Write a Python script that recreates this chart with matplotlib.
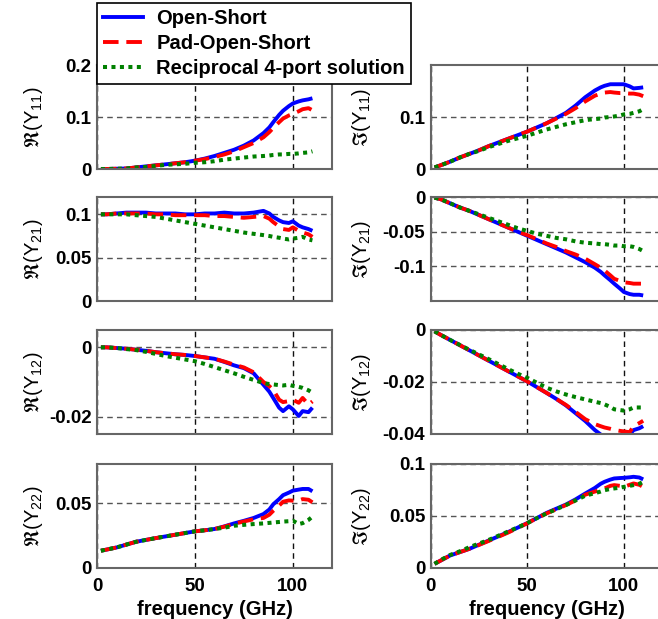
import numpy as np
import matplotlib
matplotlib.use("Agg")
import matplotlib.pyplot as plt
from matplotlib.lines import Line2D

plt.rcParams['font.family'] = ['Liberation Sans', 'DejaVu Sans']
plt.rcParams['mathtext.fontset'] = 'dejavusans'
plt.rcParams['mathtext.default'] = 'regular'

# частоты, ГГц
freq = [2, 5, 10, 15, 20, 25, 30, 35, 40, 45, 50, 55, 60, 65, 70, 75, 80,
        85, 88, 90, 93, 95, 98, 100, 103, 105, 108, 110]

series_names = ["Open-Short", "Pad-Open-Short", "Reciprocal 4-port solution"]

# Re(Y11)
re_y11_os = [0, 0, 0.0005, 0.001, 0.003, 0.005, 0.007, 0.009, 0.011, 0.013, 0.016, 0.02, 0.025, 0.031,
             0.037, 0.045, 0.055, 0.069, 0.080, 0.090, 0.104, 0.112, 0.121, 0.126, 0.130, 0.132, 0.134, 0.136]
re_y11_pos = [0, 0, 0.0005, 0.001, 0.003, 0.005, 0.007, 0.009, 0.011, 0.013, 0.016, 0.019, 0.023, 0.028,
              0.034, 0.042, 0.05, 0.061, 0.071, 0.079, 0.090, 0.097, 0.103, 0.106, 0.111, 0.115, 0.117, 0.113]
re_y11_rec = [0, 0, 0.0005, 0.001, 0.003, 0.004, 0.006, 0.008, 0.009, 0.010, 0.012, 0.013, 0.015, 0.018,
              0.020, 0.022, 0.024, 0.025, 0.026, 0.027, 0.028, 0.028, 0.029, 0.029, 0.030, 0.031, 0.032, 0.034]

# Im(Y11)
im_y11_os = [0.003, 0.007, 0.014, 0.022, 0.029, 0.036, 0.044, 0.051, 0.058, 0.065, 0.072, 0.080, 0.088, 0.098,
             0.108, 0.122, 0.138, 0.151, 0.157, 0.160, 0.163, 0.163, 0.163, 0.163, 0.159, 0.155, 0.156, 0.157]
im_y11_pos = [0.003, 0.007, 0.014, 0.022, 0.029, 0.036, 0.044, 0.051, 0.058, 0.065, 0.072, 0.080, 0.088, 0.097,
              0.106, 0.117, 0.130, 0.141, 0.145, 0.147, 0.148, 0.147, 0.146, 0.146, 0.145, 0.145, 0.143, 0.140]
im_y11_rec = [0.003, 0.007, 0.014, 0.022, 0.029, 0.035, 0.042, 0.048, 0.054, 0.059, 0.064, 0.070, 0.076, 0.081,
              0.086, 0.090, 0.094, 0.096, 0.097, 0.099, 0.100, 0.101, 0.103, 0.105, 0.106, 0.108, 0.111, 0.115]

# Re(Y21)
re_y21_os = [0.1, 0.1, 0.101, 0.102, 0.102, 0.102, 0.101, 0.101, 0.101, 0.100, 0.100, 0.101, 0.101, 0.102,
             0.101, 0.101, 0.102, 0.104, 0.101, 0.097, 0.093, 0.091, 0.090, 0.092, 0.087, 0.085, 0.083, 0.081]
re_y21_pos = [0.1, 0.1, 0.101, 0.101, 0.101, 0.101, 0.100, 0.100, 0.099, 0.099, 0.099, 0.099, 0.098, 0.098,
              0.097, 0.096, 0.097, 0.098, 0.095, 0.091, 0.086, 0.083, 0.082, 0.085, 0.081, 0.079, 0.077, 0.074]
re_y21_rec = [0.1, 0.1, 0.1, 0.1, 0.099, 0.098, 0.097, 0.095, 0.093, 0.091, 0.089, 0.087, 0.085, 0.083,
              0.081, 0.079, 0.0775, 0.076, 0.075, 0.074, 0.073, 0.072, 0.071, 0.072, 0.073, 0.074, 0.071, 0.070]

# Im(Y21)
im_y21_os = [-0.001, -0.003, -0.009, -0.015, -0.020, -0.026, -0.032, -0.038, -0.044, -0.050, -0.056, -0.062,
             -0.068, -0.074, -0.080, -0.087, -0.094, -0.102, -0.108, -0.113, -0.120, -0.125, -0.132, -0.137,
             -0.140, -0.141, -0.141, -0.142]
im_y21_pos = [-0.001, -0.003, -0.009, -0.015, -0.020, -0.026, -0.032, -0.038, -0.044, -0.050, -0.055, -0.061,
              -0.067, -0.072, -0.078, -0.083, -0.089, -0.097, -0.102, -0.106, -0.113, -0.118, -0.121, -0.123,
              -0.124, -0.125, -0.125, -0.125]
im_y21_rec = [-0.001, -0.003, -0.009, -0.015, -0.020, -0.025, -0.030, -0.035, -0.040, -0.045, -0.049, -0.053,
              -0.056, -0.059, -0.061, -0.064, -0.066, -0.067, -0.068, -0.068, -0.069, -0.070, -0.070, -0.071,
              -0.071, -0.072, -0.075, -0.078]

# Re(Y12)
re_y12_os = [0, 0, -0.0002, -0.0004, -0.0007, -0.001, -0.0014, -0.0017, -0.002, -0.0022, -0.0025, -0.0029,
             -0.0033, -0.0042, -0.0052, -0.006, -0.0075, -0.0108, -0.0128, -0.0146, -0.0174, -0.0184, -0.0170,
             -0.0179, -0.0198, -0.0184, -0.0187, -0.0174]
re_y12_pos = [0, 0, -0.0002, -0.0004, -0.0007, -0.001, -0.0014, -0.0017, -0.002, -0.0022, -0.0025, -0.0029,
              -0.0033, -0.0041, -0.0050, -0.0058, -0.0072, -0.0100, -0.0112, -0.0123, -0.0151, -0.0158, -0.0155,
              -0.0151, -0.0160, -0.0146, -0.0165, -0.0156]
re_y12_rec = [0, 0, -0.0002, -0.0005, -0.0008, -0.0013, -0.0019, -0.0025, -0.003, -0.0035, -0.004, -0.0048,
              -0.0057, -0.0066, -0.0075, -0.0085, -0.0094, -0.0103, -0.0106, -0.0107, -0.0109, -0.0110, -0.0108,
              -0.0111, -0.0114, -0.0117, -0.0124, -0.0131]

# Im(Y12)
im_y12_os = [-0.0005, -0.0018, -0.0038, -0.0058, -0.0078, -0.0098, -0.0118, -0.0138, -0.0158, -0.0178, -0.0198,
             -0.0220, -0.0242, -0.0265, -0.0290, -0.0320, -0.0350, -0.0385, -0.0402, -0.0408, -0.0412, -0.0412,
             -0.0410, -0.0408, -0.0402, -0.0385, -0.0378, -0.0370]
im_y12_pos = [-0.0005, -0.0018, -0.0038, -0.0058, -0.0078, -0.0098, -0.0118, -0.0138, -0.0158, -0.0178, -0.0198,
              -0.0220, -0.0242, -0.0265, -0.0288, -0.0315, -0.0343, -0.0362, -0.0370, -0.0375, -0.0380, -0.0384,
              -0.0388, -0.0390, -0.0393, -0.0370, -0.0358, -0.0349]
im_y12_rec = [-0.0005, -0.0018, -0.0038, -0.0057, -0.0076, -0.0094, -0.0112, -0.0131, -0.0150, -0.0168, -0.0184,
              -0.0203, -0.0222, -0.0236, -0.0248, -0.0258, -0.0267, -0.0276, -0.0281, -0.0286, -0.0296, -0.0305,
              -0.0308, -0.0310, -0.0305, -0.0298, -0.0298, -0.0298]

# Re(Y22)
re_y22_os = [0.0133, 0.0142, 0.0158, 0.018, 0.0202, 0.0216, 0.023, 0.0243, 0.0256, 0.0269, 0.0282, 0.029, 0.030,
             0.032, 0.0343, 0.0363, 0.0385, 0.0415, 0.045, 0.049, 0.053, 0.056, 0.058, 0.0595, 0.0603, 0.0608,
             0.0608, 0.059]
re_y22_pos = [0.0133, 0.0142, 0.0158, 0.018, 0.0202, 0.0216, 0.023, 0.0243, 0.0256, 0.0269, 0.0282, 0.029, 0.030,
              0.0318, 0.034, 0.0358, 0.0375, 0.0385, 0.041, 0.044, 0.048, 0.051, 0.052, 0.0518, 0.052, 0.053,
              0.0525, 0.0505]
re_y22_rec = [0.0133, 0.0142, 0.0158, 0.018, 0.0202, 0.0216, 0.023, 0.0243, 0.0256, 0.0269, 0.0282, 0.029, 0.030,
              0.031, 0.0325, 0.0332, 0.0338, 0.0343, 0.0347, 0.035, 0.0354, 0.0357, 0.036, 0.0364, 0.0338, 0.0345,
              0.037, 0.0395]

# Im(Y22)
im_y22_os = [0.004, 0.007, 0.012, 0.0152, 0.0184, 0.0224, 0.0264, 0.0304, 0.0345, 0.0388, 0.0432, 0.048, 0.053,
             0.057, 0.061, 0.066, 0.0716, 0.077, 0.081, 0.0829, 0.085, 0.0861, 0.0865, 0.0867, 0.0872, 0.0877,
             0.087, 0.0852]
im_y22_pos = [0.004, 0.007, 0.012, 0.0152, 0.0184, 0.0222, 0.026, 0.030, 0.034, 0.0385, 0.043, 0.048, 0.0525,
              0.0565, 0.0605, 0.065, 0.0705, 0.0735, 0.075, 0.0765, 0.079, 0.0797, 0.079, 0.078, 0.080, 0.0813,
              0.080, 0.078]
im_y22_rec = [0.004, 0.0075, 0.0125, 0.016, 0.020, 0.0235, 0.027, 0.031, 0.035, 0.039, 0.0432, 0.048, 0.0525,
              0.0565, 0.0605, 0.065, 0.0695, 0.072, 0.0735, 0.0748, 0.076, 0.0765, 0.0772, 0.078, 0.079, 0.0797,
              0.081, 0.0829]

# (ряд, столбец): данные, подпись, пределы и деления по y
panels = [
    (0, 0, (re_y11_os, re_y11_pos, re_y11_rec), r'$\Re$(Y$_{11}$)', (0, 0.2), [0, 0.1, 0.2]),
    (0, 1, (im_y11_os, im_y11_pos, im_y11_rec), r'$\Im$(Y$_{11}$)', (0, 0.2), [0, 0.1]),
    (1, 0, (re_y21_os, re_y21_pos, re_y21_rec), r'$\Re$(Y$_{21}$)', (0, 0.12), [0, 0.05, 0.1]),
    (1, 1, (im_y21_os, im_y21_pos, im_y21_rec), r'$\Im$(Y$_{21}$)', (-0.15, 0), [-0.1, -0.05, 0]),
    (2, 0, (re_y12_os, re_y12_pos, re_y12_rec), r'$\Re$(Y$_{12}$)', (-0.025, 0.005), [-0.02, 0]),
    (2, 1, (im_y12_os, im_y12_pos, im_y12_rec), r'$\Im$(Y$_{12}$)', (-0.04, 0), [-0.04, -0.02, 0]),
    (3, 0, (re_y22_os, re_y22_pos, re_y22_rec), r'$\Re$(Y$_{22}$)', (0, 0.08), [0, 0.05]),
    (3, 1, (im_y22_os, im_y22_pos, im_y22_rec), r'$\Im$(Y$_{22}$)', (0, 0.1), [0, 0.05, 0.1]),
]

W, H = 658, 619
col_left = [97, 430.7]
col_width = [235, 231.8]
label_x = [45, 373]
row_top = [65, 197, 330, 464]
row_h = 104

styles = [
    dict(color='#0000ff', lw=2.8, ls='-'),
    dict(color='#ff0000', lw=2.8, ls=(0, (4, 2.0))),
    dict(color='#008000', lw=2.9, ls=(0, (1.0, 1.1))),
]

fig = plt.figure(figsize=(W / 100, H / 100), dpi=100)

for row, col, data, label, ylim, yticks in panels:
    ax = fig.add_axes([col_left[col] / W, 1 - (row_top[row] + row_h) / H,
                       col_width[col] / W, row_h / H])
    for y, st in zip(data, styles):
        ax.plot(freq, y, solid_capstyle='butt', dash_capstyle='butt', **st)
    ax.set_xlim(0, 120)
    ax.set_ylim(*ylim)
    ax.set_xticks([0, 50, 100])
    ax.set_yticks(yticks)
    ax.set_yticklabels(['%g' % v for v in yticks])
    if row < 3:
        ax.set_xticklabels([])
    else:
        ax.set_xticklabels(['0', '50', '100'])
        ax.set_xlabel('frequency (GHz)', fontsize=14.5, fontweight='bold', labelpad=4)
    ax.tick_params(axis='y', length=0, labelsize=13.5, pad=4)
    ax.tick_params(axis='x', length=0, labelsize=13.5, pad=7)
    for t in ax.get_xticklabels() + ax.get_yticklabels():
        t.set_fontweight('bold')
    ax.xaxis.grid(True, color='#111111', ls=(0, (4, 3)), lw=1.0)
    ax.yaxis.grid(True, color='#555555', ls=(0, (4, 3)), lw=1.0)
    for sp in ax.spines.values():
        sp.set_color('#666666')
        sp.set_linewidth(1.5)
    ax.set_ylabel(label, fontsize=14.5)
    ax.yaxis.set_label_coords((label_x[col] - col_left[col]) / col_width[col], 0.5)

# общая легенда поверх верхней левой панели
handles = [Line2D([], [], **st) for st in styles]
leg = fig.legend(handles, series_names, loc='upper left',
                 bbox_to_anchor=(97 / W, 1 - 3 / H), borderaxespad=0,
                 fancybox=False, framealpha=1, edgecolor='black',
                 prop=dict(size=14.5, weight='bold'),
                 handlelength=2.0, handletextpad=0.65, labelspacing=0.3,
                 borderpad=0.3)
leg.get_frame().set_linewidth(1.2)

fig.savefig('out.png', dpi=100)
